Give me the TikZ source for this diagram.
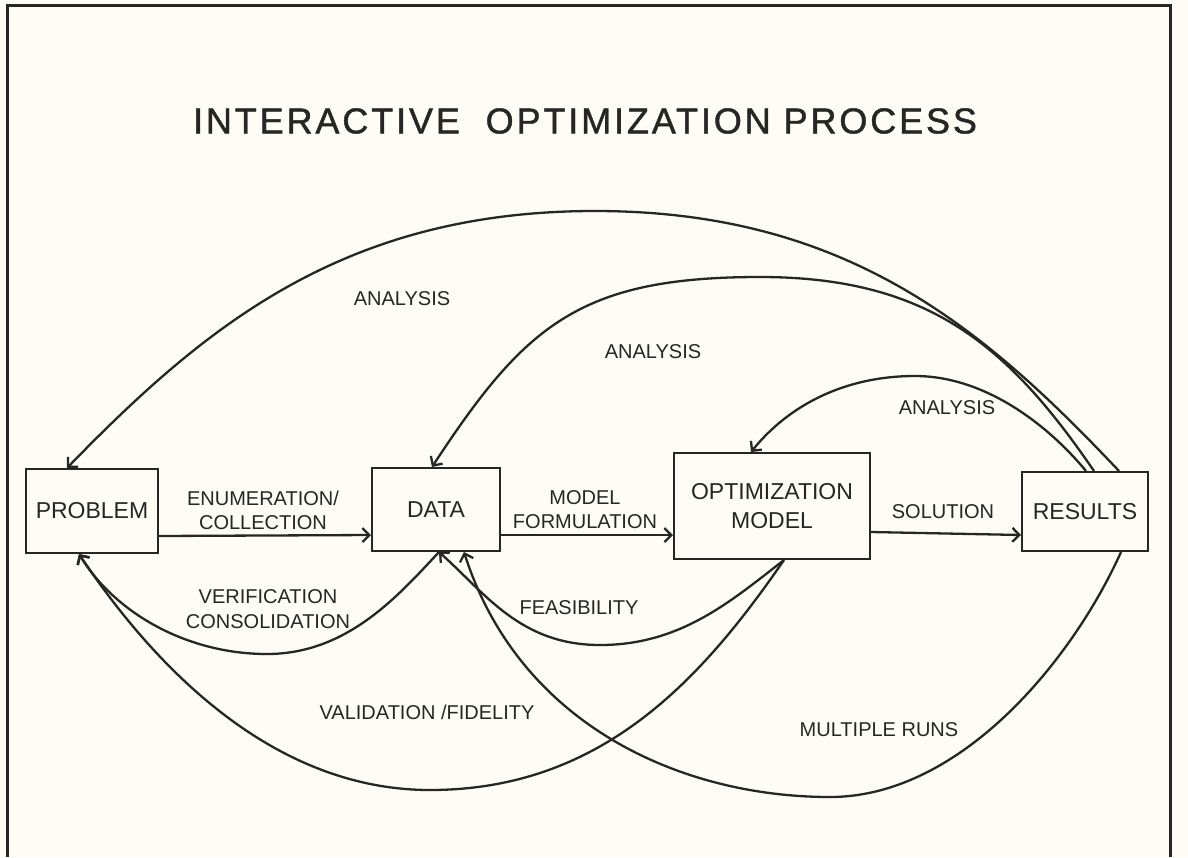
\documentclass[tikz,border=0pt]{standalone}
\usepackage{fontspec}
\setmainfont{Liberation Sans}
\usetikzlibrary{arrows.meta}
\definecolor{paper}{RGB}{253,253,246}
\definecolor{ink}{RGB}{38,38,36}

\begin{document}
\begin{tikzpicture}[x=1pt,y=-1pt,
    box/.style={draw=ink,line width=2pt,inner sep=0pt,align=center,text=ink,
                font=\fontsize{23}{29}\selectfont},
    lbl/.style={inner sep=0pt,align=center,text=ink,font=\fontsize{20}{24.5}\selectfont},
    arr/.style={draw=ink,line width=2.3pt,-{Straight Barb[length=7pt,width=14pt]}}]
    \useasboundingbox (0,0) rectangle (1188,857);
    \fill[paper] (0,0) rectangle (1188,857);
    % Frame (open at the bottom)
    \draw[ink,line width=3pt] (7,857) -- (7,5) -- (1170,5) -- (1170,857);
    % Title
    \node[text=ink,font=\fontsize{36}{40}\selectfont\addfontfeatures{LetterSpace=8,FakeBold=1.2}]
        (title) at (585,121) {INTERACTIVE\ \ OPTIMIZATION PROCESS};
    % Boxes
    \node[box,minimum width=132pt,minimum height=84pt] (prob) at (92,511) {PROBLEM};
    \node[box,minimum width=128pt,minimum height=83pt] (data) at (436,509.5) {DATA};
    \node[box,minimum width=196pt,minimum height=106pt] (opt) at (772,506)
        {OPTIMIZATION\\MODEL};
    \node[box,minimum width=126pt,minimum height=79pt] (res) at (1085,511.5) {RESULTS};
    % Forward arrows
    \draw[arr] ([yshift=18pt]prob.south east) -- ([yshift=17pt]data.south west);
    \draw[arr] ([yshift=17pt]data.south east) -- ([yshift=25pt]opt.south west);
    \draw[arr] ([yshift=28pt]opt.south east) -- ([yshift=17pt]res.south west);
    \node[lbl] (enum) at (263,510.5) {ENUMERATION/\\COLLECTION};
    \node[lbl] (form) at (585,509.5) {MODEL\\FORMULATION};
    \node[lbl] (sol) at (943,512) {SOLUTION};
    % Analysis loops from the results
    \draw[arr] ([xshift=-30pt]res.north east) .. controls (982,326) and (845,211) .. (595,211)
        .. controls (345,211) and (206,325) .. ([xshift=42pt]prob.north west);
    \draw[arr] ([xshift=-55pt]res.north east) .. controls (1009,347) and (930,277) .. (760,277)
        .. controls (580,277) and (525,325) .. ([xshift=61pt]data.north west);
    \draw[arr] ([xshift=-63pt]res.north east) .. controls (1048,425) and (985,376) .. (915,376)
        .. controls (845,376) and (789,405) .. ([xshift=78pt]opt.north west);
    \node[lbl] (anaA) at (402,299) {ANALYSIS};
    \node[lbl] (anaB) at (653,352) {ANALYSIS};
    \node[lbl] (anaC) at (947,408) {ANALYSIS};
    % Feedback loops below the boxes
    \draw[arr] ([xshift=68pt]data.south west) .. controls (398,596) and (347,654) .. (267,654)
        .. controls (187,654) and (115,613) .. ([xshift=54pt]prob.south west);
    \draw[arr] ([xshift=111pt]opt.south west) .. controls (730,602) and (680,645) .. (600,645)
        .. controls (520,645) and (485,593) .. ([xshift=68pt]data.south west);
    \draw[arr] ([xshift=111pt]opt.south west) .. controls (700,682) and (600,790) .. (430,790)
        .. controls (280,790) and (162,678) .. ([xshift=54pt]prob.south west);
    \draw[arr] ([xshift=-28pt]res.south east) .. controls (1072,661) and (960,797) .. (830,797)
        .. controls (680,797) and (519,724) .. ([xshift=93pt]data.south west);
    \node[lbl] (verif) at (268,609) {VERIFICATION\\CONSOLIDATION};
    \node[lbl] (feas) at (579,608) {FEASIBILITY};
    \node[lbl] (valid) at (427,712) {VALIDATION /FIDELITY};
    \node[lbl] (runs) at (879,730) {MULTIPLE RUNS};
\end{tikzpicture}
\end{document}
